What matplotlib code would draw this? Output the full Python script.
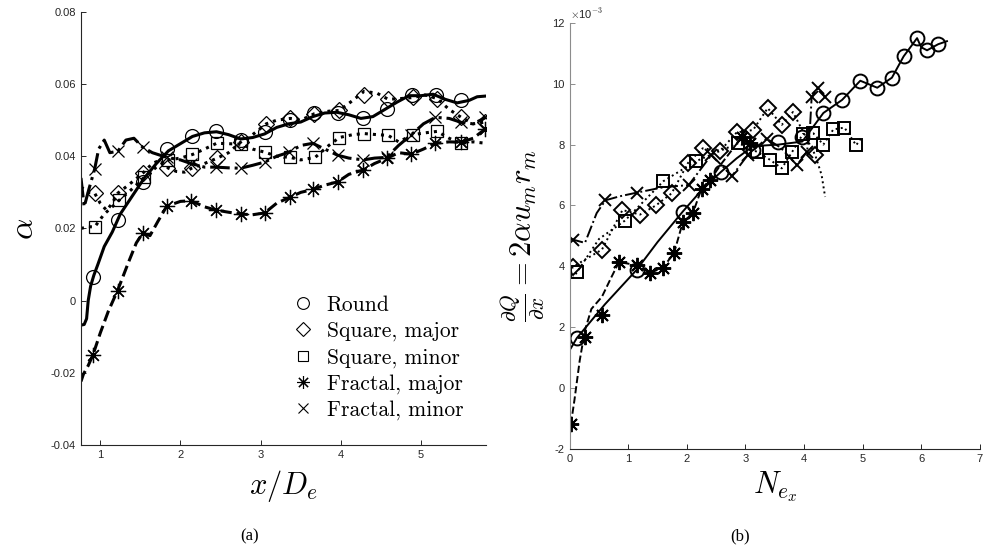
import matplotlib
matplotlib.use("Agg")
import matplotlib.pyplot as plt
import numpy as np
from matplotlib.lines import Line2D
from matplotlib.ticker import FuncFormatter

plt.rcParams['mathtext.fontset'] = 'cm'
plt.rcParams['font.family'] = ['Liberation Sans', 'DejaVu Sans']

# ---------------- panel (a): alpha vs x/De ----------------
a_round_lx = [0.76, 0.80, 0.83, 0.85, 0.88, 0.92, 0.97, 1.05, 1.15, 1.25, 1.40, 1.55, 1.70, 1.85, 2.00,
              2.15, 2.30, 2.45, 2.60, 2.75, 2.90, 3.05, 3.20, 3.35, 3.50, 3.65, 3.80, 3.95, 4.10, 4.25,
              4.40, 4.55, 4.70, 4.85, 5.00, 5.15, 5.30, 5.45, 5.60, 5.70, 5.81]
a_round_ly = [-0.0068, -0.0066, -0.005, 0.000, 0.004, 0.007, 0.010, 0.015, 0.019, 0.024, 0.029, 0.034,
              0.038, 0.0415, 0.0435, 0.0455, 0.0465, 0.0468, 0.046, 0.0448, 0.0452, 0.0462, 0.048, 0.049,
              0.0495, 0.051, 0.052, 0.0522, 0.0515, 0.0505, 0.051, 0.053, 0.055, 0.0568, 0.0568, 0.0572,
              0.0558, 0.0548, 0.0555, 0.0565, 0.0567]
a_round_mx = [0.91, 1.22, 1.53, 1.83, 2.14, 2.44, 2.75, 3.05, 3.36, 3.67, 3.97, 4.28, 4.58, 4.89, 5.19, 5.50]
a_round_my = [0.0066, 0.0223, 0.0330, 0.0420, 0.0456, 0.0469, 0.0444, 0.0467, 0.0500, 0.0520, 0.0520,
              0.0507, 0.0532, 0.0570, 0.0570, 0.0555]

a_sqmaj_lx = [0.76, 0.85, 0.93, 1.00, 1.08, 1.15, 1.22, 1.35, 1.53, 1.65, 1.75, 1.85, 1.95, 2.05, 2.14,
              2.30, 2.45, 2.60, 2.75, 2.90, 3.07, 3.20, 3.37, 3.50, 3.67, 3.85, 3.98, 4.12, 4.29, 4.45,
              4.59, 4.75, 4.90, 5.05, 5.20, 5.35, 5.50, 5.65, 5.81]
a_sqmaj_ly = [0.0315, 0.030, 0.0298, 0.027, 0.025, 0.027, 0.0298, 0.032, 0.0353, 0.038, 0.039, 0.0367,
              0.0358, 0.0356, 0.0367, 0.038, 0.0394, 0.041, 0.0439, 0.046, 0.049, 0.050, 0.0505, 0.050,
              0.0518, 0.0525, 0.0527, 0.055, 0.058, 0.0575, 0.0558, 0.056, 0.0563, 0.057, 0.056, 0.053,
              0.0508, 0.049, 0.0495]
a_sqmaj_mx = [0.93, 1.22, 1.53, 1.83, 2.14, 2.45, 2.75, 3.07, 3.37, 3.67, 3.98, 4.29, 4.59, 4.90, 5.20, 5.50, 5.80]
a_sqmaj_my = [0.0298, 0.0298, 0.0353, 0.0367, 0.0367, 0.0394, 0.0439, 0.0490, 0.0505, 0.0518, 0.0527,
              0.0570, 0.0560, 0.0563, 0.0560, 0.0508, 0.0495]

a_sqmin_lx = [0.76, 0.85, 0.93, 1.05, 1.15, 1.24, 1.40, 1.55, 1.70, 1.85, 2.00, 2.15, 2.30, 2.45, 2.60,
              2.76, 2.90, 3.06, 3.20, 3.37, 3.50, 3.68, 3.85, 3.98, 4.15, 4.29, 4.45, 4.59, 4.72, 4.90,
              5.05, 5.20, 5.35, 5.50, 5.65, 5.81]
a_sqmin_ly = [0.020, 0.0205, 0.0204, 0.024, 0.026, 0.0279, 0.031, 0.0342, 0.037, 0.039, 0.0395, 0.0405,
              0.042, 0.0436, 0.0435, 0.0433, 0.042, 0.0411, 0.040, 0.0397, 0.039, 0.0397, 0.043, 0.0452,
              0.046, 0.0463, 0.046, 0.0458, 0.044, 0.0460, 0.0465, 0.0469, 0.045, 0.0436, 0.044, 0.0436]
a_sqmin_mx = [0.93, 1.24, 1.55, 1.85, 2.15, 2.45, 2.76, 3.06, 3.37, 3.68, 3.98, 4.29, 4.59, 4.90, 5.20, 5.50]
a_sqmin_my = [0.0204, 0.0279, 0.0342, 0.0390, 0.0405, 0.0436, 0.0433, 0.0411, 0.0397, 0.0397, 0.0452,
              0.0463, 0.0458, 0.0460, 0.0469, 0.0436]

a_frmaj_lx = [0.76, 0.79, 0.85, 0.91, 1.00, 1.10, 1.22, 1.35, 1.45, 1.53, 1.62, 1.72, 1.83, 2.00, 2.13,
              2.30, 2.44, 2.60, 2.75, 2.90, 3.05, 3.20, 3.36, 3.50, 3.65, 3.80, 3.96, 4.10, 4.28, 4.42,
              4.57, 4.72, 4.88, 5.03, 5.18, 5.35, 5.50, 5.65, 5.81]
a_frmaj_ly = [-0.0224, -0.0204, -0.018, -0.015, -0.009, -0.003, 0.003, 0.0105, 0.016, 0.0187, 0.018,
              0.022, 0.0262, 0.0275, 0.0277, 0.026, 0.0251, 0.0245, 0.024, 0.0238, 0.0243, 0.027, 0.0286,
              0.030, 0.0308, 0.032, 0.0329, 0.035, 0.0362, 0.038, 0.0394, 0.041, 0.0406, 0.042, 0.0436,
              0.044, 0.0439, 0.045, 0.0477]
a_frmaj_mx = [0.91, 1.22, 1.53, 1.83, 2.13, 2.44, 2.75, 3.05, 3.36, 3.65, 3.96, 4.28, 4.57, 4.88, 5.18, 5.50, 5.80]
a_frmaj_my = [-0.0152, 0.0028, 0.0187, 0.0262, 0.0276, 0.0251, 0.0240, 0.0243, 0.0286, 0.0308, 0.0329,
              0.0362, 0.0394, 0.0406, 0.0436, 0.0439, 0.0477]

a_frmin_lx = [0.76, 0.80, 0.86, 0.93, 0.98, 1.05, 1.12, 1.22, 1.32, 1.42, 1.53, 1.65, 1.83, 2.00, 2.13,
              2.30, 2.44, 2.60, 2.75, 2.90, 3.05, 3.20, 3.35, 3.50, 3.65, 3.80, 3.96, 4.10, 4.28, 4.42,
              4.57, 4.72, 4.88, 5.03, 5.18, 5.35, 5.50, 5.65, 5.81]
a_frmin_ly = [0.034, 0.026, 0.031, 0.0364, 0.042, 0.0445, 0.041, 0.0414, 0.0445, 0.045, 0.0425, 0.041,
              0.0397, 0.039, 0.038, 0.037, 0.037, 0.0368, 0.0367, 0.0375, 0.0384, 0.040, 0.0411, 0.043,
              0.0436, 0.042, 0.0403, 0.0395, 0.039, 0.0395, 0.0397, 0.043, 0.046, 0.049, 0.0508, 0.0505,
              0.0494, 0.049, 0.0508]
a_frmin_mx = [0.93, 1.22, 1.53, 1.83, 2.13, 2.44, 2.75, 3.05, 3.35, 3.65, 3.96, 4.28, 4.57, 4.88, 5.18, 5.50, 5.80]
a_frmin_my = [0.0364, 0.0414, 0.0425, 0.0397, 0.0380, 0.0370, 0.0367, 0.0384, 0.0411, 0.0436, 0.0403,
              0.0390, 0.0397, 0.0460, 0.0508, 0.0494, 0.0508]

# ---------------- panel (b): dQ/dx vs N_ex (units of 1e-3) ----------------
b_round_lx = [0.02, 0.12, 0.60, 1.14, 1.50, 1.93, 2.25, 2.58, 2.85, 3.13, 3.56, 3.97, 4.33, 4.65, 4.96,
              5.25, 5.50, 5.70, 5.93, 6.00, 6.10, 6.29, 6.44]
b_round_ly = [1.31, 1.64, 2.75, 3.88, 4.80, 5.80, 6.50, 7.10, 7.55, 7.95, 8.00, 8.10, 9.04, 9.47, 10.10,
              9.87, 10.20, 10.90, 11.50, 11.20, 11.10, 11.30, 11.40]
b_round_mx = [0.12, 1.14, 1.93, 2.58, 3.13, 3.56, 3.97, 4.33, 4.65, 4.96, 5.25, 5.50, 5.70, 5.93, 6.10, 6.29]
b_round_my = [1.64, 3.88, 5.80, 7.10, 7.83, 8.10, 8.26, 9.04, 9.47, 10.10, 9.87, 10.20, 10.90, 11.50, 11.10, 11.30]

b_sqmaj_lx = [0.00, 0.05, 0.55, 0.90, 1.20, 1.47, 1.74, 2.02, 2.27, 2.57, 2.85, 3.13, 3.38, 3.62, 3.81,
              4.19, 4.30, 4.36]
b_sqmaj_ly = [3.60, 3.98, 4.55, 5.85, 5.70, 6.00, 6.40, 7.40, 7.88, 7.80, 8.40, 8.48, 9.20, 8.65, 9.07,
              7.66, 7.00, 6.28]
b_sqmaj_mx = [0.05, 0.55, 0.90, 1.20, 1.47, 1.74, 2.02, 2.27, 2.57, 2.85, 3.13, 3.38, 3.62, 3.81, 4.19]
b_sqmaj_my = [3.98, 4.55, 5.85, 5.70, 6.00, 6.40, 7.40, 7.88, 7.80, 8.40, 8.48, 9.20, 8.65, 9.07, 7.66]

b_sqmin_lx = [0.05, 0.12, 0.50, 0.94, 1.60, 2.16, 2.88, 3.20, 3.42, 3.62, 3.80, 3.98, 4.16, 4.33, 4.50,
              4.69, 4.89, 4.97]
b_sqmin_ly = [3.60, 3.80, 4.90, 5.50, 6.80, 7.46, 8.05, 7.76, 7.50, 7.22, 7.77, 8.35, 8.37, 8.00, 8.50,
              8.56, 7.98, 8.20]
b_sqmin_mx = [0.12, 0.94, 1.60, 2.16, 2.88, 3.20, 3.42, 3.62, 3.80, 3.98, 4.16, 4.33, 4.50, 4.69, 4.89]
b_sqmin_my = [3.80, 5.50, 6.80, 7.46, 8.05, 7.76, 7.50, 7.22, 7.77, 8.35, 8.37, 8.00, 8.50, 8.56, 7.98]

b_frmaj_lx = [0.02, 0.08, 0.17, 0.26, 0.37, 0.55, 0.70, 0.84, 1.14, 1.37, 1.59, 1.78, 1.93, 2.10, 2.25,
              2.40, 2.60, 2.80, 2.94, 3.07]
b_frmaj_ly = [-1.18, -0.40, 0.90, 1.90, 2.60, 3.00, 3.60, 4.14, 4.04, 3.78, 3.96, 4.43, 5.45, 5.74, 6.55,
              6.85, 7.40, 7.90, 8.26, 8.05]
b_frmaj_mx = [0.02, 0.26, 0.55, 0.84, 1.14, 1.37, 1.59, 1.78, 1.93, 2.10, 2.25, 2.40, 2.94, 3.07]
b_frmaj_my = [-1.18, 1.67, 2.40, 4.14, 4.04, 3.78, 3.96, 4.43, 5.45, 5.74, 6.55, 6.85, 8.26, 8.05]

b_frmin_lx = [0.02, 0.05, 0.26, 0.46, 0.61, 0.85, 1.14, 1.60, 2.03, 2.42, 2.77, 3.04, 3.36, 3.60, 3.88,
              4.05, 4.10, 4.13, 4.24, 4.36]
b_frmin_ly = [4.90, 4.88, 4.77, 5.75, 6.17, 6.30, 6.42, 6.60, 6.67, 7.66, 6.97, 7.66, 8.20, 7.90, 7.33,
              7.77, 8.50, 9.57, 9.85, 9.57]
b_frmin_mx = [0.05, 0.61, 1.14, 2.03, 2.42, 2.77, 3.04, 3.36, 3.88, 4.05, 4.13, 4.24, 4.36]
b_frmin_my = [4.88, 6.17, 6.42, 6.67, 7.66, 6.97, 7.66, 8.20, 7.33, 7.77, 9.57, 9.85, 9.57]

labels = ['Round', 'Square, major', 'Square, minor', 'Fractal, major', 'Fractal, minor']
markers = ['o', 'D', 's', (8, 2, 0), 'x']   # (8, 2, 0): asterisk like MATLAB '*'
styles = ['-', ':', ':', '--', '-.']
msizes = [10, 8.5, 8.5, 11, 9]

fig = plt.figure(figsize=(9.84, 5.59), dpi=100)
ax1 = fig.add_axes([0.0823, 0.204, 0.4116, 0.7746])
ax2 = fig.add_axes([0.579, 0.197, 0.4167, 0.762])


def style_axes(ax, ycolor):
    for s in ['top', 'right']:
        ax.spines[s].set_visible(False)
    ax.spines['left'].set_color(ycolor)
    ax.spines['bottom'].set_color('#262626')
    ax.tick_params(direction='in', length=3.5, labelsize=8, colors='#262626', width=0.7)
    ax.tick_params(axis='y', color=ycolor)


series_a = [
    (a_round_lx, a_round_ly, a_round_mx, a_round_my),
    (a_sqmaj_lx, a_sqmaj_ly, a_sqmaj_mx, a_sqmaj_my),
    (a_sqmin_lx, a_sqmin_ly, a_sqmin_mx, a_sqmin_my),
    (a_frmaj_lx, a_frmaj_ly, a_frmaj_mx, a_frmaj_my),
    (a_frmin_lx, a_frmin_ly, a_frmin_mx, a_frmin_my),
]
for i, (lx, ly, mx, my) in enumerate(series_a):
    ax1.plot(lx, ly, color='black', ls=styles[i], lw=2.2)
    ax1.plot(mx, my, ls='none', marker=markers[i], ms=msizes[i], mfc='none',
             mec='black', mew=0.9)

ax1.set_xlim(0.76, 5.81)
ax1.set_ylim(-0.04, 0.08)
ax1.set_xticks([1, 2, 3, 4, 5])
ax1.set_yticks([-0.04, -0.02, 0, 0.02, 0.04, 0.06, 0.08])
ax1.set_yticklabels(['-0.04', '-0.02', '0', '0.02', '0.04', '0.06', '0.08'])
style_axes(ax1, '#262626')
ax1.set_ylabel(r'$\alpha$', fontsize=24, labelpad=8)
ax1.set_xlabel(r'$x/D_e$', fontsize=22, labelpad=6)

handles = [Line2D([], [], ls='none', marker=markers[i], ms=msizes[i] * 0.85, mfc='none',
                  mec='black', mew=0.8) for i in range(5)]
leg = ax1.legend(handles, labels, loc='center', bbox_to_anchor=(0.385, 0.36),
                 bbox_transform=fig.transFigure, frameon=False, handlelength=0.8,
                 handletextpad=0.7, labelspacing=0.3, prop={'family': 'cmr10', 'size': 15.5})

series_b = [
    (b_round_lx, b_round_ly, b_round_mx, b_round_my),
    (b_sqmaj_lx, b_sqmaj_ly, b_sqmaj_mx, b_sqmaj_my),
    (b_sqmin_lx, b_sqmin_ly, b_sqmin_mx, b_sqmin_my),
    (b_frmaj_lx, b_frmaj_ly, b_frmaj_mx, b_frmaj_my),
    (b_frmin_lx, b_frmin_ly, b_frmin_mx, b_frmin_my),
]
for i, (lx, ly, mx, my) in enumerate(series_b):
    ax2.plot(lx, np.array(ly) * 1e-3, color='black', ls=styles[i], lw=1.4)
    ax2.plot(mx, np.array(my) * 1e-3, ls='none', marker=markers[i], ms=msizes[i],
             mfc='none', mec='black', mew=1.4)

ax2.set_xlim(0, 7)
ax2.set_ylim(-2e-3, 12e-3)
ax2.set_xticks(range(0, 8))
ax2.set_yticks(np.arange(-2, 13, 2) * 1e-3)
ax2.yaxis.set_major_formatter(FuncFormatter(lambda v, p: f'{v * 1e3:g}'))
style_axes(ax2, '#8c8c8c')
ax2.text(0.0, 1.005, r'$\times$10$^{\mathsf{-3}}$', transform=ax2.transAxes, fontsize=8,
         color='#262626', ha='left', va='bottom')
ax2.set_ylabel(r'$\frac{\partial Q}{\partial x} = 2\alpha u_m r_m$', fontsize=22, labelpad=4)
ax2.set_xlabel(r'$N_{e_x}$', fontsize=22, labelpad=4)

fig.text(0.254, 0.034, '(a)', family='Liberation Serif', fontsize=12, ha='center')
fig.text(0.752, 0.034, '(b)', family='Liberation Serif', fontsize=12, ha='center')

fig.savefig('out.png', dpi=100)
